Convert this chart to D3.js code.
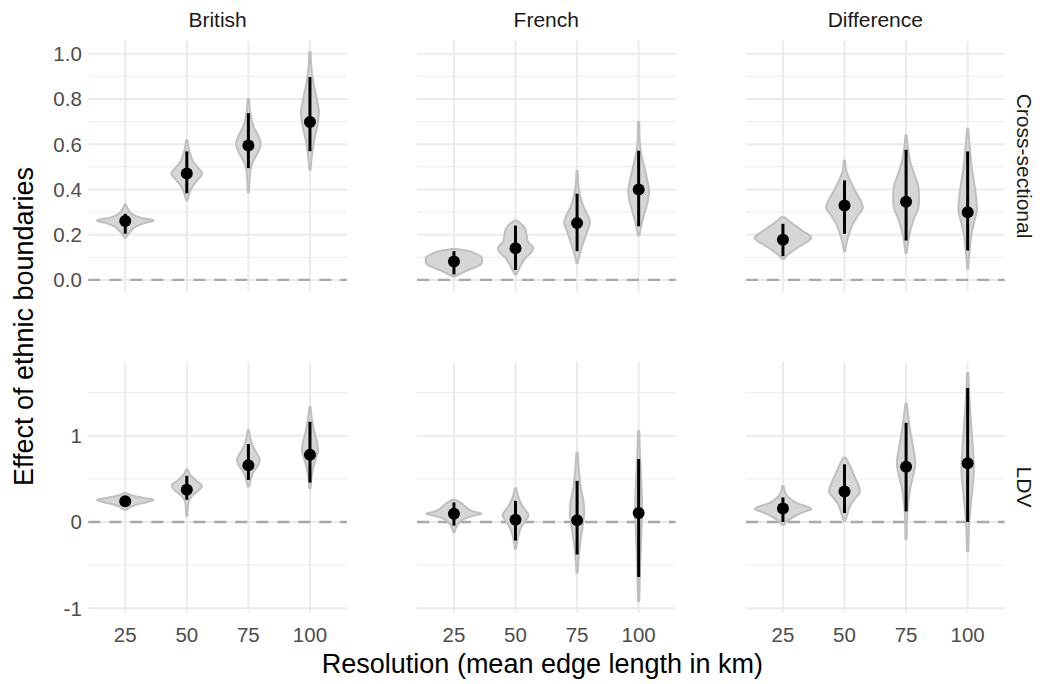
<!DOCTYPE html>
<html>
<head>
  <meta charset="utf-8">
  <title>Effect of ethnic boundaries</title>
  <style>
    body { margin: 0; background: #fff; }
    svg { font-family: "Liberation Sans", Arial, sans-serif; }
  </style>
</head>
<body>
  <script src="https://d3js.org/d3.v7.min.js"></script>
  <script type="text/javascript">
    var columns = ["British", "French", "Difference"];
    var rows = ["Cross-sectional", "LDV"];
    var resolutions = ["25", "50", "75", "100"];
    var yTicksCross = [0, 0.2, 0.4, 0.6, 0.8, 1.0];
    var yMinorCross = [0.1, 0.3, 0.5, 0.7, 0.9];
    var yTicksLDV = [-1, 0, 1];
    var yMinorLDV = [-0.5, 0.5, 1.5];

    // point estimates and intervals, [column][resolution]
    var estCross = [[0.26, 0.47, 0.594, 0.698], [0.081, 0.14, 0.251, 0.4], [0.177, 0.329, 0.345, 0.299]];
    var lowCross = [[0.204, 0.383, 0.494, 0.569], [0.024, 0.044, 0.127, 0.237], [0.105, 0.204, 0.174, 0.13]];
    var highCross = [[0.292, 0.568, 0.737, 0.897], [0.127, 0.24, 0.381, 0.571], [0.248, 0.44, 0.575, 0.568]];
    var estLDV = [[0.242, 0.373, 0.658, 0.781], [0.096, 0.027, 0.019, 0.104], [0.158, 0.354, 0.642, 0.681]];
    var lowLDV = [[0.2, 0.258, 0.488, 0.458], [-0.042, -0.215, -0.377, -0.638], [0.0, 0.104, 0.123, 0.0]];
    var highLDV = [[0.296, 0.535, 0.904, 1.162], [0.227, 0.246, 0.477, 0.731], [0.285, 0.669, 1.15, 1.554]];

    // violin outlines: [value, half width in category units]
    var shapeCross = [
      [
        [[0.333,0.01],[0.31,0.05],[0.29,0.12],[0.275,0.25],[0.262,0.46],[0.25,0.3],[0.235,0.17],[0.215,0.09],[0.2,0.04],[0.186,0.01]],
        [[0.617,0.01],[0.57,0.04],[0.52,0.11],[0.49,0.2],[0.47,0.25],[0.45,0.2],[0.42,0.11],[0.39,0.05],[0.36,0.02],[0.351,0.01]],
        [[0.8,0.01],[0.74,0.03],[0.68,0.08],[0.63,0.17],[0.6,0.2],[0.56,0.15],[0.52,0.07],[0.48,0.03],[0.42,0.015],[0.388,0.01]],
        [[1.007,0.01],[0.95,0.02],[0.88,0.05],[0.8,0.11],[0.74,0.145],[0.68,0.12],[0.62,0.07],[0.56,0.035],[0.52,0.02],[0.487,0.01]]
      ],
      [
        [[0.137,0.03],[0.13,0.2],[0.115,0.36],[0.1,0.45],[0.085,0.46],[0.07,0.44],[0.055,0.34],[0.04,0.2],[0.025,0.09],[0.015,0.02]],
        [[0.263,0.02],[0.25,0.08],[0.23,0.15],[0.2,0.18],[0.17,0.2],[0.14,0.29],[0.12,0.25],[0.1,0.17],[0.07,0.1],[0.045,0.05],[0.024,0.01]],
        [[0.481,0.01],[0.42,0.02],[0.37,0.05],[0.32,0.11],[0.28,0.18],[0.255,0.21],[0.22,0.17],[0.18,0.12],[0.14,0.07],[0.1,0.03],[0.075,0.01]],
        [[0.698,0.01],[0.62,0.015],[0.56,0.04],[0.5,0.09],[0.44,0.14],[0.39,0.17],[0.35,0.15],[0.3,0.1],[0.25,0.05],[0.21,0.02],[0.196,0.01]]
      ],
      [
        [[0.277,0.03],[0.26,0.1],[0.24,0.2],[0.215,0.33],[0.195,0.44],[0.185,0.46],[0.17,0.4],[0.15,0.28],[0.13,0.17],[0.11,0.07],[0.093,0.02]],
        [[0.528,0.01],[0.48,0.03],[0.44,0.09],[0.39,0.18],[0.345,0.27],[0.32,0.3],[0.29,0.23],[0.25,0.14],[0.2,0.07],[0.16,0.03],[0.127,0.01]],
        [[0.639,0.01],[0.58,0.03],[0.52,0.07],[0.46,0.14],[0.41,0.2],[0.36,0.21],[0.32,0.2],[0.28,0.14],[0.23,0.08],[0.18,0.04],[0.119,0.01]],
        [[0.668,0.01],[0.6,0.03],[0.5,0.065],[0.42,0.11],[0.36,0.14],[0.31,0.15],[0.26,0.11],[0.2,0.06],[0.14,0.035],[0.08,0.015],[0.049,0.01]]
      ]
    ];
    var shapeLDV = [
      [
        [[0.335,0.02],[0.31,0.1],[0.28,0.3],[0.255,0.46],[0.23,0.35],[0.2,0.18],[0.17,0.07],[0.142,0.02]],
        [[0.61,0.01],[0.55,0.05],[0.48,0.15],[0.42,0.245],[0.37,0.2],[0.32,0.11],[0.27,0.05],[0.2,0.02],[0.073,0.01]],
        [[1.065,0.01],[0.98,0.03],[0.88,0.07],[0.78,0.15],[0.72,0.185],[0.65,0.15],[0.58,0.08],[0.5,0.04],[0.44,0.02],[0.412,0.01]],
        [[1.335,0.01],[1.2,0.03],[1.05,0.07],[0.9,0.12],[0.83,0.13],[0.75,0.1],[0.65,0.06],[0.55,0.03],[0.45,0.015],[0.392,0.01]]
      ],
      [
        [[0.258,0.03],[0.22,0.12],[0.17,0.2],[0.12,0.32],[0.096,0.45],[0.07,0.3],[0.03,0.15],[-0.02,0.07],[-0.07,0.03],[-0.119,0.01]],
        [[0.392,0.01],[0.3,0.04],[0.2,0.1],[0.12,0.18],[0.08,0.21],[0.02,0.17],[-0.05,0.1],[-0.15,0.05],[-0.25,0.02],[-0.31,0.01]],
        [[0.804,0.01],[0.6,0.03],[0.4,0.06],[0.2,0.11],[0.1,0.115],[0,0.1],[-0.15,0.07],[-0.3,0.04],[-0.45,0.02],[-0.588,0.01]],
        [[1.054,0.01],[0.8,0.02],[0.5,0.04],[0.2,0.055],[0.0,0.05],[-0.3,0.035],[-0.6,0.02],[-0.915,0.01]]
      ],
      [
        [[0.419,0.01],[0.35,0.03],[0.28,0.1],[0.22,0.22],[0.17,0.42],[0.15,0.46],[0.12,0.35],[0.07,0.2],[0.02,0.08],[-0.031,0.02]],
        [[0.746,0.02],[0.68,0.07],[0.6,0.12],[0.5,0.18],[0.4,0.24],[0.35,0.25],[0.28,0.18],[0.2,0.1],[0.1,0.05],[0.008,0.01]],
        [[1.373,0.01],[1.2,0.04],[1.0,0.08],[0.8,0.13],[0.68,0.15],[0.55,0.12],[0.4,0.07],[0.2,0.03],[0.0,0.015],[-0.196,0.01]],
        [[1.727,0.01],[1.4,0.03],[1.1,0.06],[0.8,0.09],[0.6,0.1],[0.4,0.08],[0.2,0.05],[0.0,0.025],[-0.2,0.015],[-0.338,0.01]]
      ]
    ];

    var width = 1040, height = 684;
    var panelLeft = [88.3, 417, 746], panelW = 258.6;
    var panelTop = [40.7, 361.7], panelH = 250.6;

    var svg = d3.select("body").append("svg")
      .attr("width", width)
      .attr("height", height);

    var fmtCross = d3.format(".1f");
    var fmtLDV = function(d) { return String(d); };   // keeps plain hyphen for -1

    var rowData = [
      { ticks: yTicksCross, minor: yMinorCross, fmt: fmtCross, est: estCross, low: lowCross, high: highCross, shape: shapeCross },
      { ticks: yTicksLDV, minor: yMinorLDV, fmt: fmtLDV, est: estLDV, low: lowLDV, high: highLDV, shape: shapeLDV }
    ];

    rowData.forEach(function(r, ri) {
      // y range from data plus zero line, 5% expansion like ggplot
      var vals = [0];
      r.shape.forEach(function(col) { col.forEach(function(v) { v.forEach(function(k) { vals.push(k[0]); }); }); });
      var lo = d3.min(vals), hi = d3.max(vals), pad = (hi - lo) * 0.05;
      var y = d3.scaleLinear()
        .domain([lo - pad, hi + pad])
        .range([panelTop[ri] + panelH, panelTop[ri]]);

      columns.forEach(function(colName, ci) {
        var x = d3.scalePoint()
          .domain(resolutions)
          .range([panelLeft[ci], panelLeft[ci] + panelW])
          .padding(0.6);
        var step = x.step();
        var g = svg.append("g");

        // grid
        g.selectAll(".minor").data(r.minor).enter().append("line")
          .attr("x1", panelLeft[ci]).attr("x2", panelLeft[ci] + panelW)
          .attr("y1", function(d) { return y(d); }).attr("y2", function(d) { return y(d); })
          .attr("stroke", "#ebebeb").attr("stroke-width", 1);
        g.selectAll(".major").data(r.ticks).enter().append("line")
          .attr("x1", panelLeft[ci]).attr("x2", panelLeft[ci] + panelW)
          .attr("y1", function(d) { return y(d); }).attr("y2", function(d) { return y(d); })
          .attr("stroke", "#ebebeb").attr("stroke-width", 2);
        g.selectAll(".vgrid").data(resolutions).enter().append("line")
          .attr("x1", function(d) { return x(d); }).attr("x2", function(d) { return x(d); })
          .attr("y1", panelTop[ri]).attr("y2", panelTop[ri] + panelH)
          .attr("stroke", "#ebebeb").attr("stroke-width", 2);

        // zero line
        g.append("line")
          .attr("x1", panelLeft[ci]).attr("x2", panelLeft[ci] + panelW)
          .attr("y1", y(0)).attr("y2", y(0))
          .attr("stroke", "#a8a8a8").attr("stroke-width", 2.3)
          .attr("stroke-dasharray", "12,9");

        // violins
        resolutions.forEach(function(res, k) {
          var knots = r.shape[ci][k];
          var area = d3.area()
            .y(function(d) { return y(d[0]); })
            .x0(function(d) { return x(res) - d[1] * step; })
            .x1(function(d) { return x(res) + d[1] * step; })
            .curve(d3.curveMonotoneY);
          g.append("path")
            .attr("d", area(knots))
            .attr("fill", "#d6d6d6")
            .attr("stroke", "#bfbfbf")
            .attr("stroke-width", 2)
            .attr("stroke-linejoin", "round");
        });

        // intervals and points
        g.selectAll(".ci").data(resolutions).enter().append("line")
          .attr("x1", function(d) { return x(d); }).attr("x2", function(d) { return x(d); })
          .attr("y1", function(d, k) { return y(r.low[ci][k]); })
          .attr("y2", function(d, k) { return y(r.high[ci][k]); })
          .attr("stroke", "#000").attr("stroke-width", 3);
        g.selectAll(".pt").data(resolutions).enter().append("circle")
          .attr("cx", function(d) { return x(d); })
          .attr("cy", function(d, k) { return y(r.est[ci][k]); })
          .attr("r", 6)
          .attr("fill", "#000");

        // y labels on first column
        if (ci === 0) {
          g.selectAll(".ylab").data(r.ticks).enter().append("text")
            .attr("x", panelLeft[0] - 6.5)
            .attr("y", function(d) { return y(d); })
            .attr("dy", "0.36em")
            .attr("text-anchor", "end")
            .attr("font-size", 20.5)
            .attr("fill", "#4d4d4d")
            .text(function(d) { return r.fmt(d); });
        }
        // x labels on bottom row
        if (ri === 1) {
          g.selectAll(".xlab").data(resolutions).enter().append("text")
            .attr("x", function(d) { return x(d); })
            .attr("y", 641.5)
            .attr("text-anchor", "middle")
            .attr("font-size", 20.5)
            .attr("fill", "#4d4d4d")
            .text(function(d) { return d; });
        }
        // column strips
        if (ri === 0) {
          svg.append("text")
            .attr("x", panelLeft[ci] + panelW / 2)
            .attr("y", 27)
            .attr("text-anchor", "middle")
            .attr("font-size", 21)
            .attr("fill", "#1a1a1a")
            .text(colName);
        }
      });

      // row strip
      svg.append("text")
        .attr("transform", "translate(1017," + (panelTop[ri] + panelH / 2) + ") rotate(90)")
        .attr("text-anchor", "middle")
        .attr("font-size", 21)
        .attr("fill", "#1a1a1a")
        .text(rows[ri]);
    });

    svg.append("text")
      .attr("transform", "translate(33," + ((panelTop[0] + panelTop[1] + panelH) / 2) + ") rotate(-90)")
      .attr("text-anchor", "middle")
      .attr("font-size", 27)
      .attr("fill", "#000")
      .text("Effect of ethnic boundaries");

    svg.append("text")
      .attr("x", (panelLeft[0] + panelLeft[2] + panelW) / 2 - 4)
      .attr("y", 673)
      .attr("text-anchor", "middle")
      .attr("font-size", 27)
      .attr("fill", "#000")
      .text("Resolution (mean edge length in km)");
  </script>
</body>
</html>
